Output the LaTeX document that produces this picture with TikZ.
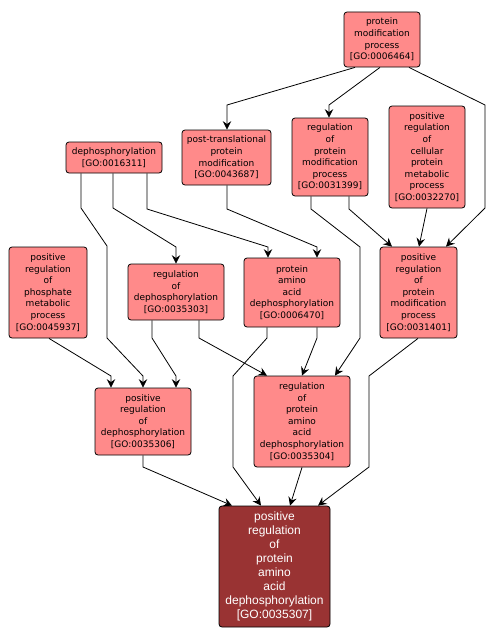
\documentclass[tikz,border=0pt]{standalone}
\usepackage{fontspec}
\setmainfont{DejaVu Sans}
\newfontfamily\targetfont{Liberation Sans}
\usetikzlibrary{arrows.meta}
\definecolor{gofill}{RGB}{255,138,138}
\definecolor{gotarget}{RGB}{153,51,51}
\tikzset{
  goterm/.style={draw=black, line width=0.8pt, fill=gofill, rounded corners=3pt,
    align=center, inner sep=0pt, font=\fontsize{9}{11.6}\selectfont},
  gomain/.style={draw=black, line width=0.8pt, fill=gotarget, rounded corners=3pt,
    align=center, inner sep=0pt, text=white, font=\targetfont\fontsize{12}{14}\selectfont},
  edge/.style={draw=black, line width=0.8pt, -{Stealth[length=8.5pt,width=8.5pt,inset=3pt]}}
}
\begin{document}
\begin{tikzpicture}[x=1pt,y=-1pt]
\useasboundingbox[fill=white] (0,0) rectangle (496,642);
\node[goterm, minimum width=76pt, minimum height=55pt] (A) at (382,39.5) {protein\\modification\\process\\{[GO:0006464]}};
\node[goterm, minimum width=89pt, minimum height=55pt] (B) at (226.5,157.5) {post-translational\\protein\\modification\\{[GO:0043687]}};
\node[goterm, minimum width=76pt, minimum height=78pt] (C) at (330,157) {regulation\\of\\protein\\modification\\process\\{[GO:0031399]}};
\node[goterm, minimum width=76pt, minimum height=102pt] (D) at (427,157) {positive\\regulation\\of\\cellular\\protein\\metabolic\\process\\{[GO:0032270]}};
\node[goterm, minimum width=96pt, minimum height=31pt] (E) at (114,157.5) {dephosphorylation\\{[GO:0016311]}};
\node[goterm, minimum width=78pt, minimum height=91pt] (F) at (48,292.5) {positive\\regulation\\of\\phosphate\\metabolic\\process\\{[GO:0045937]}};
\node[goterm, minimum width=96pt, minimum height=56pt] (G) at (176,292) {regulation\\of\\dephosphorylation\\{[GO:0035303]}};
\node[goterm, minimum width=96pt, minimum height=69pt] (H) at (292,292.5) {protein\\amino\\acid\\dephosphorylation\\{[GO:0006470]}};
\node[goterm, minimum width=77pt, minimum height=91pt] (I) at (418.5,292.5) {positive\\regulation\\of\\protein\\modification\\process\\{[GO:0031401]}};
\node[goterm, minimum width=96pt, minimum height=67pt] (J) at (143,421.5) {positive\\regulation\\of\\dephosphorylation\\{[GO:0035306]}};
\node[goterm, minimum width=96pt, minimum height=91pt] (K) at (302,421.5) {regulation\\of\\protein\\amino\\acid\\dephosphorylation\\{[GO:0035304]}};
\node[gomain, minimum width=111pt, minimum height=121pt] (L) at (274.5,566.5) {positive\\regulation\\of\\protein\\amino\\acid\\dephosphorylation\\{[GO:0035307]}};
% edges
\draw[edge] (A.south -| 355,0) -- (227,105) -- (B.north -| 227,0);
\draw[edge] (A.south -| 380,0) -- (329,105) -- (C.north -| 329,0);
\draw[edge] (A.south -| 409,0) -- (485,105) -- (485,208) -- (I.north -| 446,0);
\draw[edge] (E.south -| 81,0) -- (81,208) -- (107,246) -- (107,338) -- (143,376) -- (J.north -| 143,0);
\draw[edge] (E.south -| 113,0) -- (113,208) -- (176,247) -- (G.north -| 176,0);
\draw[edge] (E.south -| 147,0) -- (147,209) -- (268,247) -- (H.north -| 268,0);
\draw[edge] (B.south -| 227,0) -- (227,209) -- (317,247) -- (H.north -| 317,0);
\draw[edge] (C.south -| 349,0) -- (349,209) -- (I.north -| 392,0);
\draw[edge] (C.south -| 311,0) -- (311,209) -- (360,247) -- (360,338) -- (K.north -| 335,0);
\draw[edge] (D.south -| 427,0) -- (I.north -| 419,0);
\draw[edge] (F.south -| 49,0) -- (111,376) -- (J.north -| 111,0);
\draw[edge] (G.south -| 152,0) -- (152,338) -- (176,376) -- (J.north -| 176,0);
\draw[edge] (G.south -| 199,0) -- (199,338) -- (K.north -| 267,0);
\draw[edge] (H.south -| 317,0) -- (317,338) -- (K.north -| 302,0);
\draw[edge] (H.south -| 267,0) -- (267,338) -- (233,376) -- (233,467) -- (L.north -| 261,0);
\draw[edge] (I.south -| 418,0) -- (369,376) -- (369,467) -- (L.north -| 318,0);
\draw[edge] (J.south -| 143,0) -- (143,467) -- (L.north -| 232,0);
\draw[edge] (K.south -| 302,0) -- (L.north -| 290,0);
\end{tikzpicture}
\end{document}
